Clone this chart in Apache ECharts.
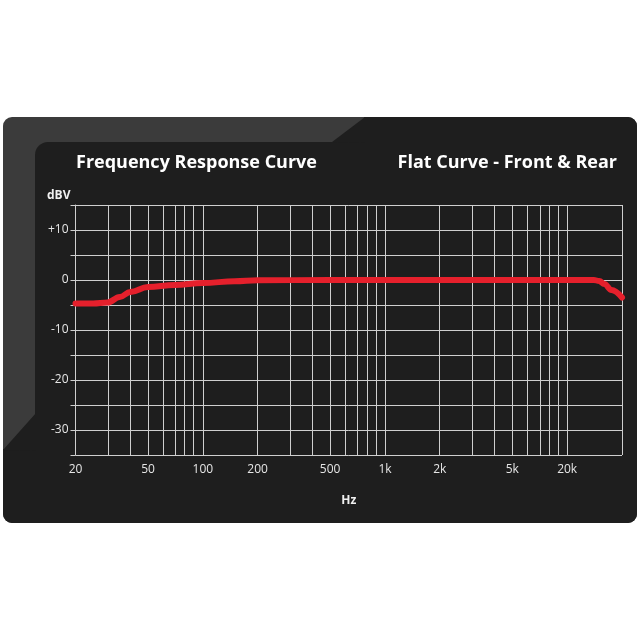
<!DOCTYPE html>
<html>
<head>
<meta charset="utf-8">
<script src="https://cdn.jsdelivr.net/npm/echarts@6/dist/echarts.min.js"></script>
<style>
  html, body { margin: 0; padding: 0; background: #fff; }
  #chart { width: 640px; height: 640px; }
</style>
</head>
<body>
<div id="chart"></div>
<script>
// response curve (Hz, dBV)
const freqs = [20, 25, 30, 35, 40, 50, 70, 100, 150, 200, 500, 1000, 5000, 14000, 15000, 16000, 17500, 20000];
const levels = [-4.7, -4.7, -4.5, -3.4, -2.4, -1.4, -1.0, -0.6, -0.25, -0.05, 0, 0, 0, 0, -0.2, -0.8, -2.0, -3.5];

// vertical grid lines
const gridFreqs = [
  20, 30, 40, 50, 60, 70, 80, 90, 100,
  200, 300, 400, 500, 600, 700, 800, 900, 1000,
  2000, 3000, 4000, 5000, 6000, 7000, 8000, 9000, 10000,
  20000
];

// x tick labels (the "20k" label sits on the 10k line in the original)
const labelFreqs = [20, 50, 100, 200, 500, 1000, 2000, 5000, 10000];
const labelTexts = ['20', '50', '100', '200', '500', '1k', '2k', '5k', '20k'];

const lg = Math.log10;
const font = 'Open Sans';
const gridColor = '#cfcfcf';
const light = '#3b3b3b';
const dark = '#1e1e1e';

const chart = echarts.init(document.getElementById('chart'));

chart.setOption({
  backgroundColor: '#fff',
  animation: false,
  graphic: [
    { type: 'rect', z: -10, shape: { x: 3, y: 117, width: 634, height: 406, r: 9 }, style: { fill: light } },
    { type: 'rect', z: -9, shape: { x: 35, y: 142, width: 602, height: 381, r: [13, 0, 9, 0] }, style: { fill: dark } },
    { type: 'rect', z: -9, shape: { x: 364, y: 117, width: 273, height: 30, r: [0, 9, 0, 0] }, style: { fill: dark } },
    { type: 'polygon', z: -9, shape: { points: [[332, 142], [365, 117], [365, 143]] }, style: { fill: dark } },
    { type: 'rect', z: -9, shape: { x: 3, y: 449, width: 34, height: 74, r: [0, 0, 0, 9] }, style: { fill: dark } },
    { type: 'polygon', z: -9, shape: { points: [[3, 450], [36, 413], [36, 451]] }, style: { fill: dark } },
    {
      type: 'text', left: 47, top: 190,
      style: { text: 'dBV', fill: '#f0f0f0', font: 'bold 12px "Open Sans"' }
    }
  ],
  title: [
    {
      text: 'Frequency Response Curve', left: 71, top: 149,
      textStyle: { color: '#fff', fontSize: 18, fontWeight: 'bold', fontFamily: font }
    },
    {
      text: 'Flat Curve - Front & Rear', right: 18, top: 149,
      textStyle: { color: '#fff', fontSize: 18, fontWeight: 'bold', fontFamily: font }
    }
  ],
  grid: { left: 75.5, right: 18, top: 205, bottom: 185 },
  xAxis: {
    type: 'value',
    min: lg(20),
    max: lg(20000),
    name: 'Hz',
    nameLocation: 'middle',
    nameGap: 40,
    nameTextStyle: { color: '#f0f0f0', fontSize: 12, fontWeight: 'bold', fontFamily: font },
    axisLine: { show: false },
    axisTick: { show: false },
    splitLine: { show: false },
    axisLabel: {
      customValues: labelFreqs.map(lg),
      color: '#e6e6e6',
      fontSize: 12,
      fontFamily: font,
      margin: 9,
      formatter: (v) => {
        let best = 0;
        labelFreqs.forEach((f, i) => {
          if (Math.abs(lg(f) - v) < Math.abs(lg(labelFreqs[best]) - v)) best = i;
        });
        return labelTexts[best];
      }
    }
  },
  yAxis: {
    type: 'value',
    min: -35,
    max: 15,
    interval: 5,
    axisLine: { show: true, lineStyle: { color: gridColor, width: 1 } },
    axisTick: { show: true, length: 5, lineStyle: { color: gridColor, width: 1 } },
    splitLine: { show: true, lineStyle: { color: gridColor, width: 1 } },
    axisLabel: {
      color: '#e6e6e6',
      fontSize: 12,
      fontFamily: font,
      margin: 7,
      formatter: (v) => {
        if (v % 10 !== 0 || v >= 15) return '';
        return v > 0 ? '+' + v : String(v);
      }
    }
  },
  series: [
    {
      // vertical log grid lines, kept under the curve
      type: 'line',
      data: [],
      z: 1,
      silent: true,
      markLine: {
        silent: true,
        symbol: 'none',
        animation: false,
        label: { show: false },
        lineStyle: { color: gridColor, width: 1, type: 'solid' },
        emphasis: { disabled: true },
        data: gridFreqs.map((f) => ({ xAxis: lg(f) }))
      }
    },
    {
      type: 'line',
      data: freqs.map((f, i) => [lg(f), levels[i]]),
      smooth: 0.4,
      smoothMonotone: 'x',
      symbol: 'none',
      z: 10,
      lineStyle: { color: '#e5202c', width: 6, cap: 'round', join: 'round' }
    }
  ]
});
</script>
</body>
</html>
